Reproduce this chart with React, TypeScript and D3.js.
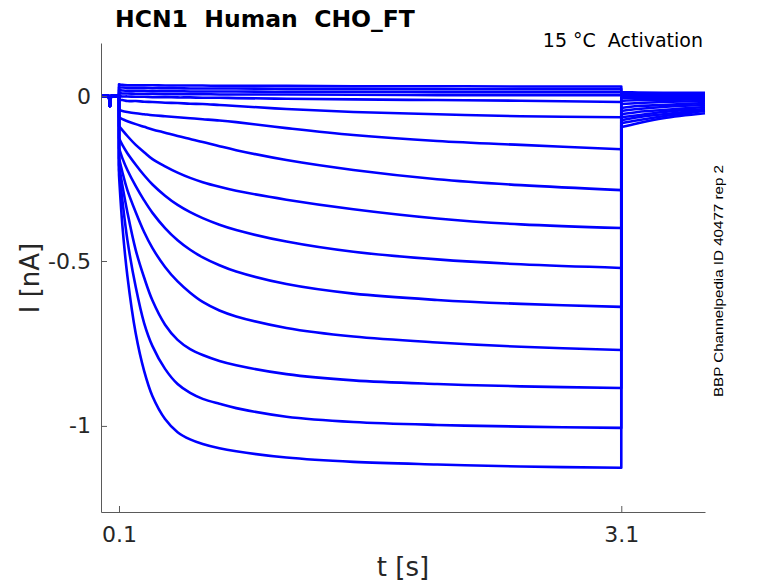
import * as d3 from 'd3';
import React, { useEffect, useRef } from 'react';

// time points (s) for the three parts of each sweep
const preTimes = [0, 0.04, 0.046, 0.052, 0.1];
const preCurrent = [0, 0, -0.03, 0, 0];
const pulseTimes = [0.1, 0.12, 0.15, 0.2, 0.25, 0.3, 0.375, 0.45, 0.525, 0.6, 0.7, 0.8, 1.1, 1.5, 2.0, 2.5, 3.1];
const tailTimes = [3.1, 3.2, 3.35, 3.6];

// current (nA) during the activation step, one row per sweep
const pulseCurrents = [
  [0.036, 0.034, 0.033, 0.033, 0.033, 0.033, 0.032, 0.032, 0.032, 0.032, 0.031, 0.031, 0.031, 0.030, 0.030, 0.029, 0.029],
  [0.027, 0.026, 0.025, 0.025, 0.025, 0.024, 0.024, 0.024, 0.023, 0.023, 0.023, 0.023, 0.022, 0.022, 0.021, 0.021, 0.021],
  [0.018, 0.017, 0.016, 0.016, 0.016, 0.015, 0.015, 0.015, 0.014, 0.014, 0.014, 0.014, 0.013, 0.013, 0.012, 0.012, 0.012],
  [0.009, 0.008, 0.008, 0.007, 0.007, 0.007, 0.006, 0.006, 0.006, 0.006, 0.005, 0.005, 0.005, 0.004, 0.003, 0.003, 0.003],
  [0.0, -0.001, -0.001, -0.002, -0.002, -0.003, -0.003, -0.004, -0.004, -0.005, -0.005, -0.006, -0.008, -0.010, -0.012, -0.014, -0.018],
  [-0.012, -0.012, -0.015, -0.015, -0.017, -0.018, -0.020, -0.021, -0.023, -0.024, -0.027, -0.030, -0.039, -0.048, -0.055, -0.061, -0.064],
  [-0.042, -0.045, -0.048, -0.052, -0.055, -0.058, -0.061, -0.064, -0.067, -0.070, -0.074, -0.079, -0.097, -0.118, -0.136, -0.148, -0.161],
  [-0.064, -0.070, -0.076, -0.085, -0.093, -0.101, -0.111, -0.121, -0.130, -0.139, -0.152, -0.164, -0.194, -0.224, -0.252, -0.270, -0.285],
  [-0.091, -0.103, -0.121, -0.148, -0.170, -0.191, -0.213, -0.232, -0.248, -0.261, -0.275, -0.287, -0.314, -0.343, -0.371, -0.389, -0.400],
  [-0.127, -0.148, -0.173, -0.208, -0.240, -0.268, -0.302, -0.330, -0.352, -0.370, -0.390, -0.406, -0.441, -0.472, -0.495, -0.510, -0.521],
  [-0.158, -0.188, -0.224, -0.273, -0.316, -0.354, -0.400, -0.437, -0.466, -0.489, -0.513, -0.532, -0.570, -0.599, -0.618, -0.630, -0.639],
  [-0.188, -0.230, -0.285, -0.352, -0.412, -0.461, -0.518, -0.562, -0.596, -0.624, -0.650, -0.668, -0.703, -0.729, -0.747, -0.760, -0.770],
  [-0.209, -0.270, -0.352, -0.467, -0.550, -0.620, -0.693, -0.739, -0.767, -0.785, -0.803, -0.816, -0.843, -0.862, -0.873, -0.880, -0.885],
  [-0.224, -0.315, -0.436, -0.579, -0.688, -0.758, -0.827, -0.873, -0.900, -0.918, -0.933, -0.946, -0.972, -0.988, -0.997, -1.002, -1.006],
  [-0.239, -0.391, -0.545, -0.720, -0.833, -0.910, -0.979, -1.019, -1.041, -1.055, -1.068, -1.077, -1.096, -1.109, -1.117, -1.123, -1.127],
];

// tail current (nA) after stepping back
const tailCurrents = [
  [0.012, 0.011, 0.010, 0.010],
  [0.008, 0.008, 0.007, 0.007],
  [0.005, 0.005, 0.004, 0.004],
  [0.002, 0.002, 0.001, 0.001],
  [-0.002, -0.002, -0.002, -0.001],
  [-0.006, -0.006, -0.006, -0.006],
  [-0.015, -0.012, -0.012, -0.009],
  [-0.024, -0.021, -0.018, -0.015],
  [-0.036, -0.030, -0.027, -0.021],
  [-0.045, -0.039, -0.033, -0.027],
  [-0.055, -0.048, -0.042, -0.033],
  [-0.064, -0.058, -0.048, -0.039],
  [-0.073, -0.064, -0.055, -0.042],
  [-0.082, -0.073, -0.061, -0.045],
  [-0.094, -0.082, -0.067, -0.052],
];

const xTicks = [0.1, 3.1];
const yTicks = [-1, -0.5, 0];

const width = 778;
const height = 583;
const font = '"DejaVu Sans", sans-serif';

export default function App() {
  const svgRef = useRef<SVGSVGElement | null>(null);

  useEffect(() => {
    const x = d3.scaleLinear().domain([-0.0075, 3.6]).range([101, 705]);
    const y = d3.scaleLinear().domain([0.161, -1.261]).range([43, 512]);

    const svg = d3.select(svgRef.current);
    svg.selectAll('*').remove();

    const linear = d3.line<[number, number]>().x(d => x(d[0])).y(d => y(d[1]));
    const smooth = d3.line<[number, number]>()
      .x(d => x(d[0]))
      .y(d => y(d[1]))
      .curve(d3.curveCatmullRom.alpha(0.5));

    const prePts = preTimes.map((t, i) => [t, preCurrent[i]] as [number, number]);
    const preD = linear(prePts) || '';

    const traces = svg.append('g');
    pulseCurrents.forEach((row, k) => {
      const pulse = pulseTimes.map((t, i) => [t, row[i]] as [number, number]);
      const tail = tailTimes.map((t, i) => [t, tailCurrents[k][i]] as [number, number]);
      const d = preD
        + (smooth(pulse) || '').replace(/^M/, 'L')
        + (smooth(tail) || '').replace(/^M/, 'L');
      traces.append('path')
        .attr('d', d)
        .attr('fill', 'none')
        .attr('stroke', '#0000ff')
        .attr('stroke-width', 2.6)
        .attr('stroke-linejoin', 'round');
    });

    // y axis
    svg.append('g')
      .attr('transform', 'translate(101,0)')
      .call(d3.axisLeft(y).tickValues(yTicks).tickSize(-6).tickSizeOuter(0).tickPadding(10)
        .tickFormat(d => String(d)))
      .call(g => g.selectAll('path, line').attr('stroke', '#5a5a5a'))
      .call(g => g.selectAll('text')
        .attr('fill', '#262626')
        .attr('font-size', 22)
        .attr('font-family', font));

    // x axis
    svg.append('g')
      .attr('transform', 'translate(0,512)')
      .call(d3.axisBottom(x).tickValues(xTicks).tickSize(-6).tickSizeOuter(0).tickPadding(14)
        .tickFormat(d => String(d)))
      .call(g => g.selectAll('path, line').attr('stroke', '#5a5a5a'))
      .call(g => g.selectAll('text')
        .attr('fill', '#262626')
        .attr('font-size', 22)
        .attr('font-family', font));

    // labels
    svg.append('text')
      .attr('x', 403).attr('y', 576)
      .attr('text-anchor', 'middle')
      .attr('font-family', font).attr('font-size', 26).attr('fill', '#262626')
      .text('t [s]');

    svg.append('text')
      .attr('transform', 'translate(39,278) rotate(-90)')
      .attr('text-anchor', 'middle')
      .attr('font-family', font).attr('font-size', 26).attr('fill', '#262626')
      .text('I [nA]');

    svg.append('text')
      .attr('x', 115).attr('y', 27)
      .attr('font-family', font).attr('font-size', 23.5).attr('font-weight', 'bold')
      .attr('fill', '#000')
      .style('white-space', 'pre')
      .text('HCN1  Human  CHO_FT');

    svg.append('text')
      .attr('x', 703).attr('y', 47)
      .attr('text-anchor', 'end')
      .attr('font-family', font).attr('font-size', 19).attr('fill', '#000')
      .style('white-space', 'pre')
      .text('15 °C  Activation');

    svg.append('text')
      .attr('transform', 'translate(723,397) rotate(-90)')
      .attr('font-family', '"Liberation Sans", Arial, sans-serif')
      .attr('font-size', 13)
      .attr('textLength', 232)
      .attr('lengthAdjust', 'spacingAndGlyphs')
      .attr('fill', '#000')
      .text('BBP Channelpedia ID 40477 rep 2');
  }, []);

  return (
    <svg
      ref={svgRef}
      width={width}
      height={height}
      style={{ position: 'absolute', left: 0, top: 0, background: '#fff' }}
    />
  );
}
